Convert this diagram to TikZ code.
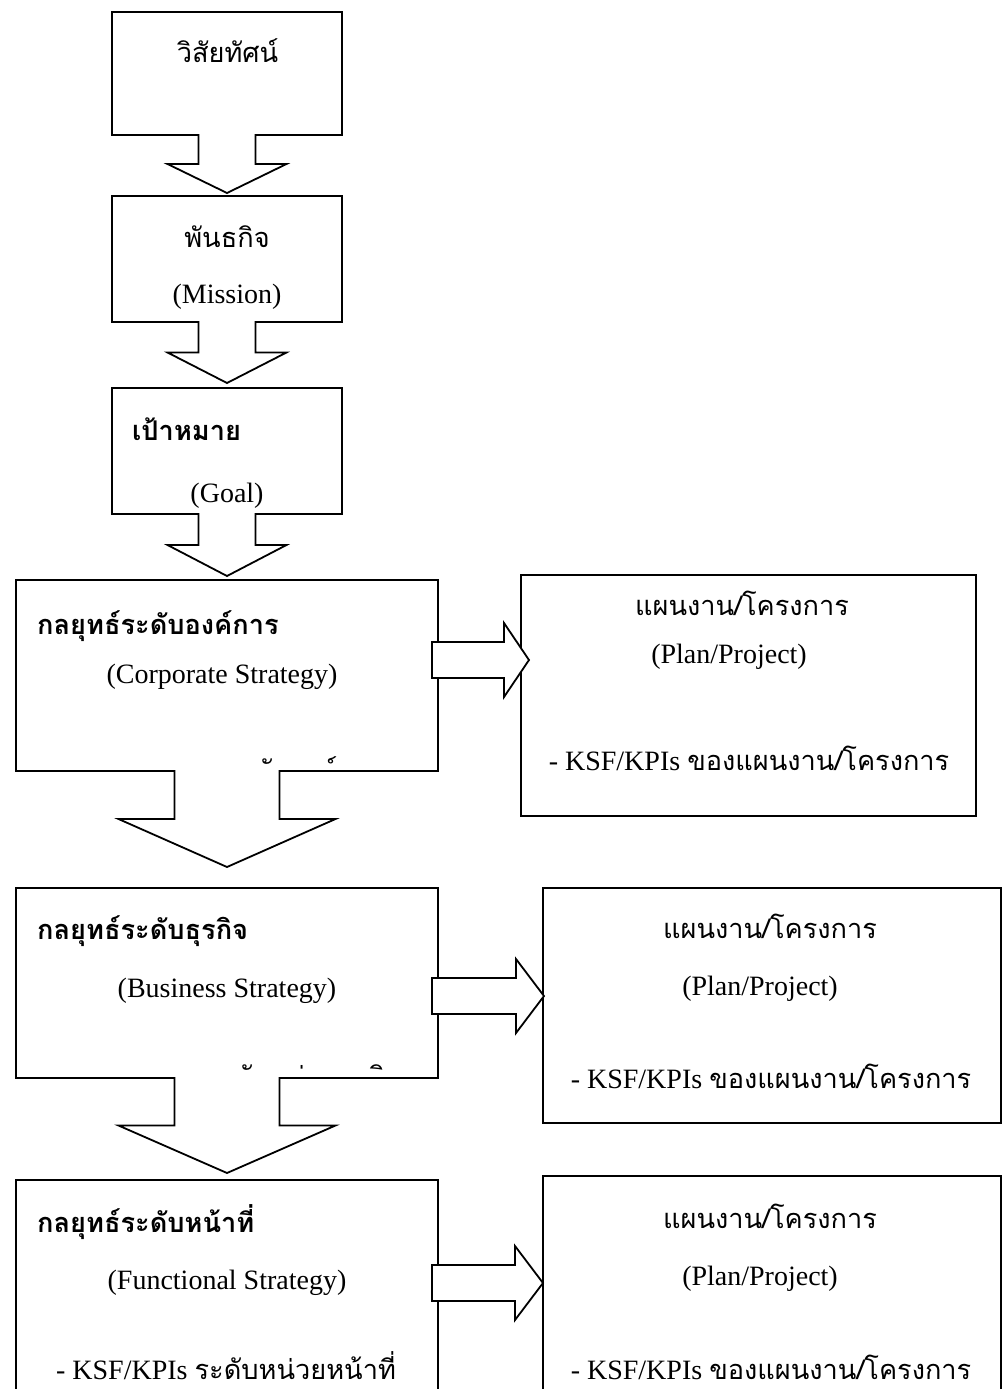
\documentclass[tikz,border=0pt]{standalone}
\usepackage{fontspec}
\setmainfont{Liberation Serif}
\newfontfamily\thaifont[Script=Thai,Scale=0.97]{Loma}
\newcommand{\thaitxt}[1]{{\thaifont #1}}
\usetikzlibrary{calc}

\tikzset{
  box/.style={draw, line width=1.8pt, inner sep=0pt, outer sep=0pt},
  blockline/.style={draw, fill=white, line width=1.8pt, line join=miter},
  txt/.style={inner sep=0pt, anchor=base, font=\fontsize{28}{34}\selectfont},
  title/.style={txt, anchor=base west, font=\fontsize{28}{34}\selectfont\bfseries}
}

% block arrow downwards: from, to, stem half width, head half width, gap
\newcommand{\downblock}[5]{%
  \draw[blockline] let \p1=(#1.south), \p2=(#2.north), \n1={(\y1-\y2-#5pt)/2} in
    (\x1-#3pt,\y1+1pt) -- (\x1-#3pt,\y1-\n1) -- (\x1-#4pt,\y1-\n1) -- (\x1,\y2+#5pt)
    -- (\x1+#4pt,\y1-\n1) -- (\x1+#3pt,\y1-\n1) -- (\x1+#3pt,\y1+1pt);
}
% block arrow to the right: from, to, y, tip offset, head length
\newcommand{\rightblock}[5]{%
  \draw[blockline] let \p1=(#1.east), \p2=(#2.west) in
    (\x1-6pt,-#3pt+18pt) -- (\x2+#4pt-#5pt,-#3pt+18pt) -- (\x2+#4pt-#5pt,-#3pt+37pt)
    -- (\x2+#4pt,-#3pt) -- (\x2+#4pt-#5pt,-#3pt-37pt) -- (\x2+#4pt-#5pt,-#3pt-18pt)
    -- (\x1-6pt,-#3pt-18pt) -- cycle;
}

\begin{document}
\begin{tikzpicture}[x=1pt,y=-1pt]
\clip (0,0) rectangle (1003,1389);
% left column
\node[box, minimum width=230pt, minimum height=123pt] (vision) at (227,73.5) {};
\node[box, minimum width=230pt, minimum height=126pt] (mission) at (227,259) {};
\node[box, minimum width=230pt, minimum height=126pt] (goal) at (227,451) {};
\node[box, minimum width=422pt, minimum height=191pt] (corp) at (227,675.5) {};
\node[box, minimum width=422pt, minimum height=190pt] (busi) at (227,983) {};
\node[box, minimum width=422pt, minimum height=240pt] (func) at (227,1300) {};
% right column
\node[box, minimum width=455pt, minimum height=241pt] (plan1) at (748.5,695.5) {};
\node[box, minimum width=458pt, minimum height=235pt] (plan2) at (772,1005.5) {};
\node[box, minimum width=458pt, minimum height=244pt] (plan3) at (772,1298) {};

\downblock{vision}{mission}{28.5}{59.5}{3}
\downblock{mission}{goal}{28.5}{59.5}{5}
\downblock{goal}{corp}{28.5}{59.5}{4}
\downblock{corp}{busi}{52.5}{108.5}{21}
\downblock{busi}{func}{52.5}{108.5}{7}
\rightblock{corp}{plan1}{660}{8}{25}
\rightblock{busi}{plan2}{996}{1}{28}
\rightblock{func}{plan3}{1283}{0}{28}

% texts
\node[txt] (visionth) at (227.5,63) {\thaitxt{วิสัยทัศน์}};
\node[txt] (missionth) at (227,247) {\thaitxt{พันธกิจ}};
\node[txt] (missionen) at (227,303) {(Mission)};
\node[title] (goalth) at (132,440) {\thaitxt{เป้าหมาย}};
\node[txt] (goalen) at (227,502) {(Goal)};
\node[title] (corpth) at (37,634) {\thaitxt{กลยุทธ์ระดับองค์การ}};
\node[txt] (corpen) at (222,683) {(Corporate Strategy)};
\node[title] (busith) at (37,939) {\thaitxt{กลยุทธ์ระดับธุรกิจ}};
\node[txt] (busien) at (227,997) {(Business Strategy)};
\node[title] (functh) at (37,1232) {\thaitxt{กลยุทธ์ระดับหน้าที่}};
\node[txt] (funcen) at (227,1289) {(Functional Strategy)};
\node[txt] (funckpi) at (226,1379) {- KSF/KPIs \thaitxt{ระดับหน่วยหน้าที่}};
% lines hidden by the box bottoms
\begin{scope}
\clip (222,581) rectangle (437,763);
\node[txt, anchor=base west] (corpkpi) at (87,780) {- KSF/KPIs \thaitxt{ระดับองค์การ}};
\end{scope}
\begin{scope}
\clip (202,889) rectangle (437,1069);
\node[txt, anchor=base west] (busikpi) at (67,1086) {- KSF/KPIs \thaitxt{ระดับหน่วยธุรกิจ}};
\end{scope}
\node[txt] (plan1th) at (742,615) {\thaitxt{แผนงาน/โครงการ}};
\node[txt] (plan1en) at (729,663) {(Plan/Project)};
\node[txt] (plan1kpi) at (749,770) {- KSF/KPIs \thaitxt{ของแผนงาน/โครงการ}};
\node[txt] (plan2th) at (770,938) {\thaitxt{แผนงาน/โครงการ}};
\node[txt] (plan2en) at (760,995) {(Plan/Project)};
\node[txt] (plan2kpi) at (771,1088) {- KSF/KPIs \thaitxt{ของแผนงาน/โครงการ}};
\node[txt] (plan3th) at (770,1228) {\thaitxt{แผนงาน/โครงการ}};
\node[txt] (plan3en) at (760,1285) {(Plan/Project)};
\node[txt] (plan3kpi) at (771,1379) {- KSF/KPIs \thaitxt{ของแผนงาน/โครงการ}};
\end{tikzpicture}
\end{document}
